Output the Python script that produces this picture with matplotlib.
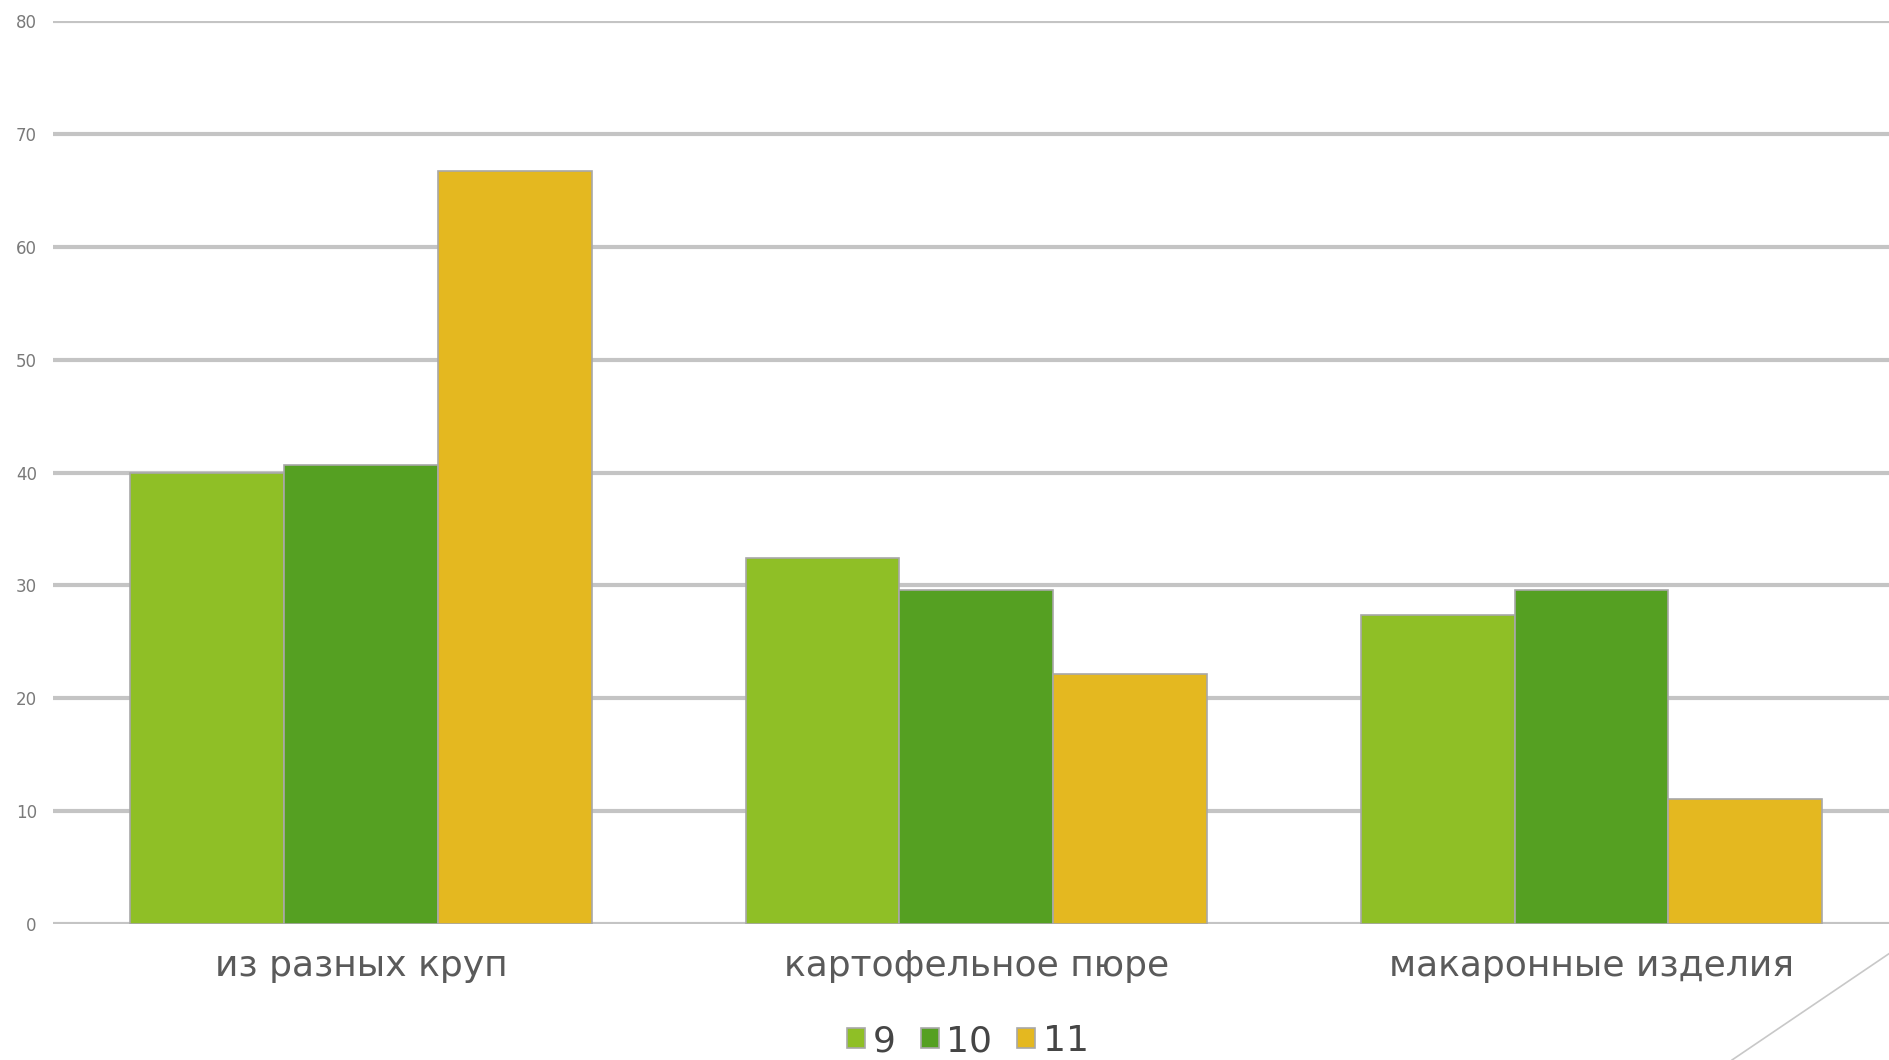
import matplotlib
matplotlib.use("Agg")
import matplotlib.pyplot as plt
from matplotlib.lines import Line2D
import numpy as np

categories = ["из разных круп", "картофельное пюре", "макаронные изделия"]
series_names = ["9", "10", "11"]
grade9 = [40.0, 32.4, 27.4]
grade10 = [40.7, 29.6, 29.6]
grade11 = [66.7, 22.2, 11.1]
y_ticks = [0, 10, 20, 30, 40, 50, 60, 70, 80]

colors = ["#8fbf26", "#55a022", "#e4b820"]
edge = "#a8a8a8"

fig = plt.figure(figsize=(18.9, 10.6), dpi=100)
W, H = 1890, 1060
left_px, right_px = 53.5, 1899
bottom_px, top_px = 924, 21.3
ax = fig.add_axes([left_px / W, 1 - bottom_px / H,
                   (right_px - left_px) / W, (bottom_px - top_px) / H])

x = np.arange(len(categories))
bw = 0.25
for i, (vals, name) in enumerate(zip([grade9, grade10, grade11], series_names)):
    ax.bar(x + (i - 1) * bw, vals, width=bw, color=colors[i], edgecolor=edge,
           linewidth=1.2, label=name, zorder=3)

ax.set_xlim(-0.5, 2.5)
ax.set_ylim(0, 80)
ax.set_yticks(y_ticks)
ax.set_yticklabels([str(t) for t in y_ticks])
ax.yaxis.grid(True, color="#c4c4c4", linewidth=3.0, zorder=0)
ax.set_axisbelow(True)
for s in ax.spines.values():
    s.set_visible(False)
ax.tick_params(axis="y", length=0, pad=12, labelsize=12, labelcolor="#7a7a7a")
ax.tick_params(axis="x", length=0, pad=18, labelsize=26, labelcolor="#5a5a5a")
ax.set_xticks(x)
ax.set_xticklabels(categories)
ax.set_facecolor("none")

ax.legend(loc="center", bbox_to_anchor=(968 / W, 1 - 1041 / H),
          bbox_transform=fig.transFigure, ncol=3, frameon=False,
          fontsize=26, handlelength=0.5, handleheight=0.5, handletextpad=0.2,
          columnspacing=0.7, labelcolor="#454545")

# decorative corner line
fig.add_artist(Line2D([1890 / W, 1732 / W], [1 - 953 / H, 0], color="#c8c8c8",
                      linewidth=1.2, transform=fig.transFigure))

fig.savefig("out.png", dpi=100)
